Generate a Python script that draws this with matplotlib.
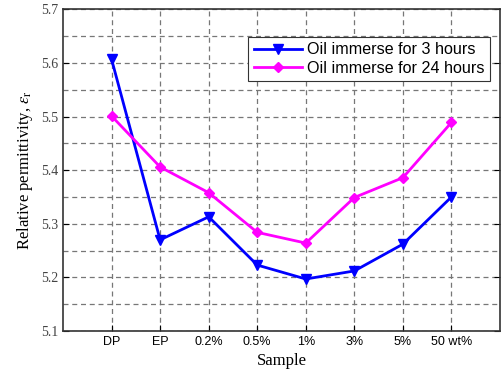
import matplotlib
matplotlib.use("Agg")
import matplotlib.pyplot as plt
from matplotlib.ticker import MultipleLocator

samples = ["DP", "EP", "0.2%", "0.5%", "1%", "3%", "5%", "50 wt%"]
oil_3h = [5.607, 5.270, 5.313, 5.223, 5.197, 5.212, 5.262, 5.350]
oil_24h = [5.501, 5.406, 5.358, 5.284, 5.264, 5.349, 5.386, 5.489]

plt.rcParams['mathtext.fontset'] = 'stix'

fig = plt.figure(figsize=(5.02, 3.74), dpi=100)
ax = fig.add_axes([0.1255, 0.115, 0.8705, 0.86])

x = range(1, len(samples) + 1)
ax.plot(x, oil_3h, color='#0000ff', lw=2, marker='v', ms=7, label='Oil immerse for 3 hours')
ax.plot(x, oil_24h, color='#ff00ff', lw=2, marker='D', ms=5, label='Oil immerse for 24 hours')

ax.set_xlim(0, 9)
ax.set_ylim(5.1, 5.7)
ax.set_xticks(list(x))
ax.set_xticklabels(samples, family='Liberation Sans', fontsize=9)
ax.yaxis.set_major_locator(MultipleLocator(0.1))
ax.yaxis.set_minor_locator(MultipleLocator(0.05))
for lab in ax.get_yticklabels():
    lab.set_family('Liberation Serif')
    lab.set_fontsize(10)
    lab.set_color('#444444')
ax.tick_params(direction='in', which='both', right=True, length=4)
ax.tick_params(which='minor', length=0)

ax.grid(True, which='both', axis='y', ls=(0, (4, 3)), color='#777777', lw=0.9)
ax.grid(True, which='major', axis='x', ls=(0, (4, 3)), color='#777777', lw=0.9)
for s in ax.spines.values():
    s.set_linewidth(1.2)
    s.set_color('#333333')

ax.set_xlabel('Sample', family='Liberation Serif', fontsize=12)
ax.set_ylabel(r'Relative permittivity, $\varepsilon_{\rm r}$', family='Liberation Serif', fontsize=12)

leg = ax.legend(loc='upper right', bbox_to_anchor=(0.978, 0.915), prop={'family': 'Liberation Sans', 'size': 11.6},
                fancybox=False, edgecolor='#333333', framealpha=1, handlelength=3.0,
                borderpad=0.35, labelspacing=0.2, handletextpad=0.3, borderaxespad=0)
leg.get_frame().set_linewidth(0.8)

plt.savefig('out.png', dpi=100)
